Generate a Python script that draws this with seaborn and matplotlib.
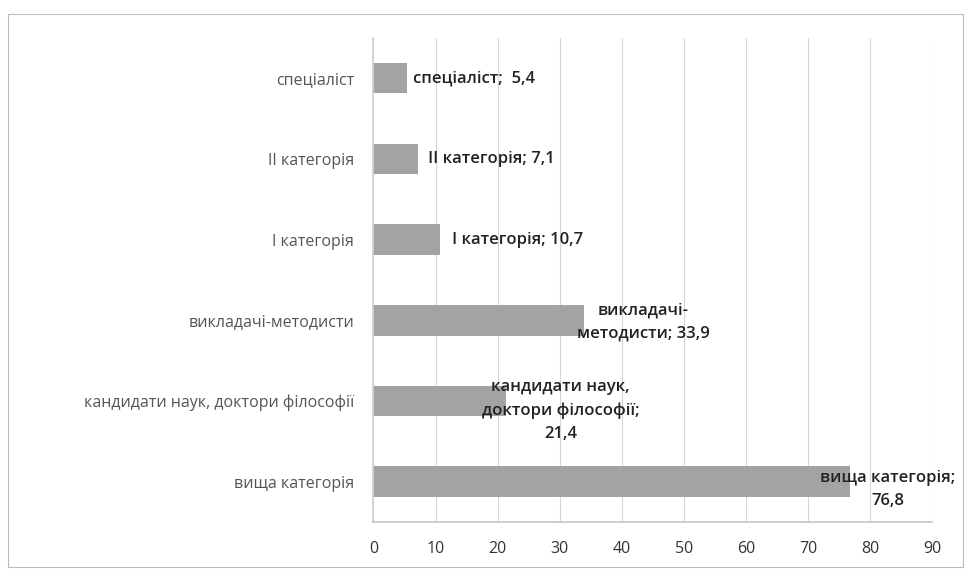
import matplotlib
matplotlib.use("Agg")
import matplotlib.pyplot as plt
import seaborn as sns
import pandas as pd
from matplotlib.patches import Rectangle

categories = ["спеціаліст", "II категорія", "I категорія", "викладачі-методисти",
              "кандидати наук, доктори філософії", "вища категорія"]
values = [5.4, 7.1, 10.7, 33.9, 21.4, 76.8]
label_texts = ["спеціаліст;  5,4", "II категорія; 7,1", "I категорія; 10,7",
               "викладачі-\nметодисти; 33,9", "кандидати наук,\nдоктори філософії;\n21,4",
               "вища категорія;\n76,8"]
xticks = [0, 10, 20, 30, 40, 50, 60, 70, 80, 90]

df = pd.DataFrame({"cat": categories, "val": values})

sns.set_theme(style="white")
plt.rcParams['font.family'] = ['Open Sans', 'DejaVu Sans']

fig = plt.figure(figsize=(9.65, 5.73), dpi=100)
ax = fig.add_axes([0.387, 0.089, 0.579, 0.845])

sns.barplot(data=df, x="val", y="cat", orient="h", color="#a3a3a3", width=0.38,
            saturation=1, ax=ax, edgecolor="none")

ax.set_xlim(0, 90)
ax.set_xticks(xticks)
ax.set_xticklabels([str(t) for t in xticks], fontsize=11.5, color="#333333")
ax.tick_params(axis="x", length=0, pad=14)
ax.tick_params(axis="y", length=0, pad=14, labelsize=11.5, labelcolor="#555555")
ax.set_xlabel("")
ax.set_ylabel("")
ax.xaxis.grid(True, color="#d6d6d6", linewidth=0.8)
ax.set_axisbelow(True)
for s in ["top", "right"]:
    ax.spines[s].set_visible(False)
ax.spines["left"].set_color("#d0d0d0")
ax.spines["bottom"].set_color("#c8c8c8")

# data labels: (x offset from bar end, horizontal alignment, y shift)
specs = [(1.0, "left", 0.0), (1.7, "left", 0.0), (1.9, "left", 0.0),
         (9.6, "center", 0.02), (8.7, "center", 0.12), (6.0, "center", 0.1)]
for i, (v, t) in enumerate(zip(values, label_texts)):
    off, ha, dy = specs[i]
    ax.text(v + off, i + dy, t, ha=ha, va="center", fontsize=12, color="#222222",
            fontweight="semibold", linespacing=1.6)

fig.patches.append(Rectangle((0.008, 0.01), 0.99, 0.965, transform=fig.transFigure,
                             fill=False, edgecolor="#bbbbbb", linewidth=0.8))

fig.savefig("out.png", dpi=100, facecolor="white")
